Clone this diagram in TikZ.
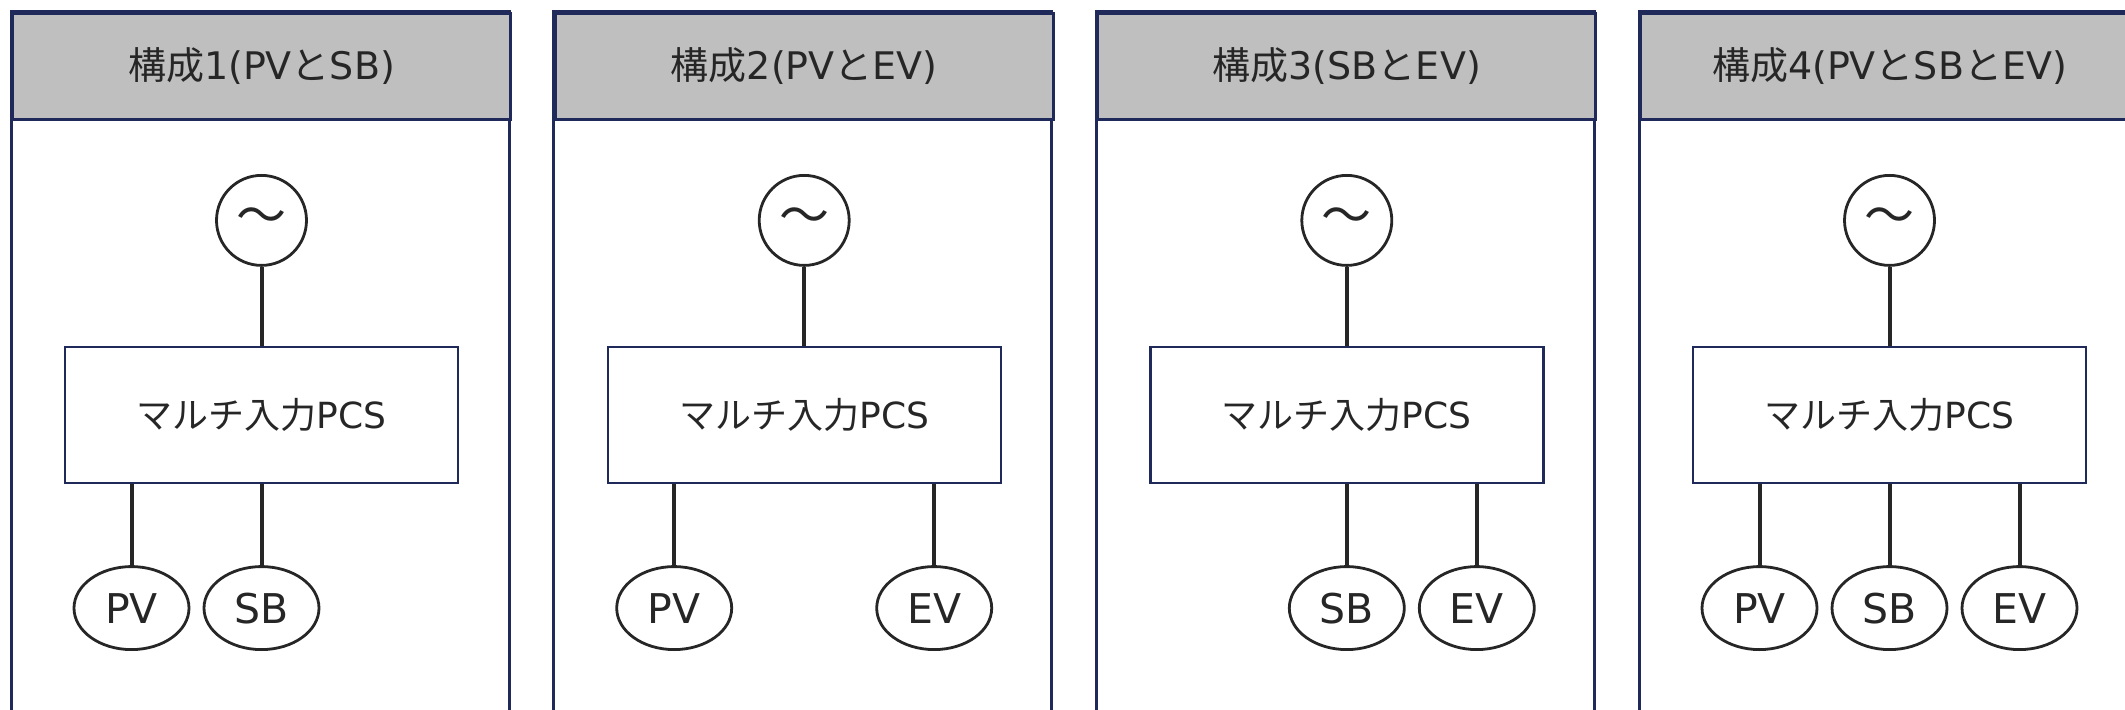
\documentclass[tikz,border=0pt]{standalone}
\usepackage{fontspec}
\setmainfont{DejaVu Sans}
\newfontfamily\jp{Noto Sans CJK JP}
\usetikzlibrary{positioning, shapes.geometric}
\definecolor{framec}{HTML}{1F2A5A}
\definecolor{headc}{HTML}{BFBFBF}
\definecolor{inkc}{HTML}{262626}

\begin{document}
\begin{tikzpicture}[x=0.5pt, y=-0.5pt,
	frame/.style={draw=framec, line width=1.5pt},
	head/.style={frame, fill=headc, anchor=north west, minimum width=249pt, minimum height=53pt, inner sep=0pt, text=inkc, font=\fontsize{19}{24}\selectfont},
	src/.style={circle, draw=inkc, line width=1.4pt, minimum size=45pt, inner sep=0pt, text=inkc, font=\jp\fontsize{25}{27}\selectfont},
	pcs/.style={draw=framec, line width=1.2pt, minimum width=196.5pt, minimum height=68pt, inner sep=0pt, text=inkc, font=\fontsize{18}{22}\selectfont},
	dev/.style={ellipse, draw=inkc, line width=1.4pt, minimum width=57.5pt, minimum height=41.5pt, inner sep=0pt, text=inkc, font=\fontsize{20.5}{24}\selectfont},
	wire/.style={draw=inkc, line width=2pt}]
	\useasboundingbox (0,0) rectangle (2125,710);
	\clip (0,0) rectangle (2125,710);
	
	% 構成1
	\draw[frame] (11,12) rectangle ++(498,720);
	\node[head] (h1) at (11,12) {{\jp 構成}1(PV{\jp と}SB)};
	\node[src, below=26.5pt of h1] (ac1) {～};
	\node[pcs, below=39.5pt of ac1] (pcs1) {{\jp マルチ入力}PCS};
	\node[dev, below=40.5pt of pcs1, xshift=-65pt] (pv1) {PV};
	\node[dev, below=40.5pt of pcs1] (sb1) {SB};
	\draw[wire] (ac1) -- (pcs1);
	\draw[wire] (pcs1.south -| pv1) -- (pv1);
	\draw[wire] (pcs1.south -| sb1) -- (sb1);
	
	% 構成2
	\draw[frame] (553.7,12) rectangle ++(498,720);
	\node[head] (h2) at (553.7,12) {{\jp 構成}2(PV{\jp と}EV)};
	\node[src, below=26.5pt of h2] (ac2) {～};
	\node[pcs, below=39.5pt of ac2] (pcs2) {{\jp マルチ入力}PCS};
	\node[dev, below=40.5pt of pcs2, xshift=-65pt] (pv2) {PV};
	\node[dev, below=40.5pt of pcs2, xshift=65pt] (ev2) {EV};
	\draw[wire] (ac2) -- (pcs2);
	\draw[wire] (pcs2.south -| pv2) -- (pv2);
	\draw[wire] (pcs2.south -| ev2) -- (ev2);
	
	% 構成3
	\draw[frame] (1096.3,12) rectangle ++(498,720);
	\node[head] (h3) at (1096.3,12) {{\jp 構成}3(SB{\jp と}EV)};
	\node[src, below=26.5pt of h3] (ac3) {～};
	\node[pcs, below=39.5pt of ac3] (pcs3) {{\jp マルチ入力}PCS};
	\node[dev, below=40.5pt of pcs3] (sb3) {SB};
	\node[dev, below=40.5pt of pcs3, xshift=65pt] (ev3) {EV};
	\draw[wire] (ac3) -- (pcs3);
	\draw[wire] (pcs3.south -| sb3) -- (sb3);
	\draw[wire] (pcs3.south -| ev3) -- (ev3);
	
	% 構成4
	\draw[frame] (1639,12) rectangle ++(498,720);
	\node[head] (h4) at (1639,12) {{\jp 構成}4(PV{\jp と}SB{\jp と}EV)};
	\node[src, below=26.5pt of h4] (ac4) {～};
	\node[pcs, below=39.5pt of ac4] (pcs4) {{\jp マルチ入力}PCS};
	\node[dev, below=40.5pt of pcs4, xshift=-65pt] (pv4) {PV};
	\node[dev, below=40.5pt of pcs4] (sb4) {SB};
	\node[dev, below=40.5pt of pcs4, xshift=65pt] (ev4) {EV};
	\draw[wire] (ac4) -- (pcs4);
	\draw[wire] (pcs4.south -| pv4) -- (pv4);
	\draw[wire] (pcs4.south -| sb4) -- (sb4);
	\draw[wire] (pcs4.south -| ev4) -- (ev4);
\end{tikzpicture}
\end{document}
